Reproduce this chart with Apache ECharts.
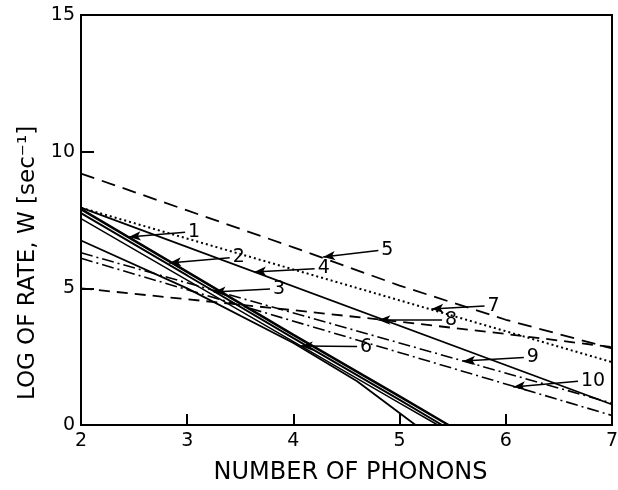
<!DOCTYPE html>
<html>
<head>
<meta charset="utf-8">
<script src="https://cdn.jsdelivr.net/npm/echarts@6/dist/echarts.min.js"></script>
<style>
  html, body { margin: 0; padding: 0; background: #fff; }
  #chart { width: 618px; height: 490px; }
</style>
</head>
<body>
<div id="chart"></div>
<script>
// axis ticks
const xTicks = [2, 3, 4, 5, 6, 7]
const yTicks = [0, 5, 10, 15]

// curves, [phonons, log rate]
const curve1 = [[2, 7.9], [3, 5.6], [4, 3.3], [5, 1.05], [5.46, 0]]
const curve2 = [[2, 7.75], [3, 5.47], [4, 3.18], [5, 0.92], [5.40, 0]]
const curve3 = [[2, 7.55], [3, 5.3], [4, 3.05], [5, 0.8], [5.36, 0]]
const curve4 = [[2, 7.95], [7, 0.75]]
const curve5 = [[2, 9.2], [3, 7.85], [4, 6.5], [5, 5.1], [6, 3.85], [7, 2.8]]
const curve6 = [[2, 6.75], [3, 5.0], [4, 3.0], [4.6, 1.6], [5.15, 0]]
const curve7 = [[2, 7.95], [7, 2.3]]
const curve8 = [[2, 5.0], [3, 4.6], [4, 4.2], [5, 3.78], [6, 3.33], [7, 2.85]]
const curve9 = [[2, 6.3], [7, 0.8]]
const curve10 = [[2, 6.1], [7, 0.35]]

// callouts: number, arrow tip, end of leader where the number sits
const calloutNames = ['1', '2', '3', '4', '5', '6', '7', '8', '9', '10']
const calloutTips = [[2.45, 6.88], [2.83, 5.93], [3.25, 4.87], [3.63, 5.6], [4.28, 6.15],
  [4.07, 2.89], [5.3, 4.24], [4.8, 3.84], [5.6, 2.34], [6.07, 1.39]]
const calloutEnds = [[2.98, 7.05], [3.4, 6.12], [3.78, 4.98], [4.2, 5.72], [4.8, 6.38],
  [4.6, 2.87], [5.8, 4.35], [5.4, 3.84], [6.17, 2.47], [6.68, 1.6]]

const chart = echarts.init(document.getElementById('chart'))

const FONT = 'DejaVu Sans'

const mkLine = (data, width, type) => ({
  type: 'line',
  data: data,
  showSymbol: false,
  symbol: 'none',
  clip: true,
  silent: true,
  lineStyle: { color: '#000', width: width, type: type },
  z: 3
})

const callouts = calloutNames.map((n, i) => [
  { coord: calloutTips[i], symbol: 'arrow' },
  { coord: calloutEnds[i], symbol: 'none', name: n }
])

const option = {
  animation: false,
  backgroundColor: '#fff',
  grid: {
    left: 81,
    top: 15,
    width: 531,
    height: 410,
    outerBoundsMode: 'none',
    containLabel: false,
    show: true,
    borderColor: '#000',
    borderWidth: 2,
    backgroundColor: 'transparent'
  },
  xAxis: {
    type: 'value',
    min: xTicks[0],
    max: xTicks[xTicks.length - 1],
    interval: 1,
    name: 'NUMBER OF PHONONS',
    nameLocation: 'middle',
    nameGap: 36,
    nameTextStyle: { fontFamily: FONT, fontSize: 24, color: '#000', padding: [0, 0, 0, 8] },
    axisLine: { show: true, lineStyle: { color: '#000', width: 2 } },
    axisTick: { show: true, inside: true, length: 11, lineStyle: { color: '#000', width: 2 } },
    axisLabel: { color: '#000', fontFamily: FONT, fontSize: 19, margin: 7 },
    splitLine: { show: false }
  },
  yAxis: {
    type: 'value',
    min: yTicks[0],
    max: yTicks[yTicks.length - 1],
    interval: 5,
    name: 'LOG OF RATE, W [sec⁻¹]',
    nameLocation: 'middle',
    nameGap: 37,
    nameTextStyle: { fontFamily: FONT, fontSize: 23, color: '#000', padding: [0, 86, 0, 0] },
    axisLine: { show: true, lineStyle: { color: '#000', width: 2 } },
    axisTick: { show: true, inside: true, length: 13, lineStyle: { color: '#000', width: 2 } },
    axisLabel: { color: '#000', fontFamily: FONT, fontSize: 19, margin: 6 },
    splitLine: { show: false }
  },
  series: [
    mkLine(curve1, 2.5, 'solid'),
    mkLine(curve2, 2, 'solid'),
    mkLine(curve3, 1.5, 'solid'),
    mkLine(curve4, 1.8, 'solid'),
    mkLine(curve5, 1.8, [14, 8]),
    mkLine(curve6, 1.8, 'solid'),
    mkLine(curve7, 2, [2, 3]),
    mkLine(curve8, 1.8, [11, 7]),
    mkLine(curve9, 1.6, [12, 4, 2, 4]),
    mkLine(curve10, 1.6, [12, 4, 2, 4]),
    {
      type: 'line',
      data: [],
      silent: true,
      markLine: {
        silent: true,
        animation: false,
        symbolSize: [7, 12],
        lineStyle: { color: '#000', width: 1.5, type: 'solid' },
        label: {
          show: true,
          position: 'end',
          formatter: '{b}',
          color: '#000',
          fontFamily: FONT,
          fontSize: 19,
          distance: 3
        },
        data: callouts
      },
      z: 5
    }
  ]
}

chart.setOption(option)
</script>
</body>
</html>
